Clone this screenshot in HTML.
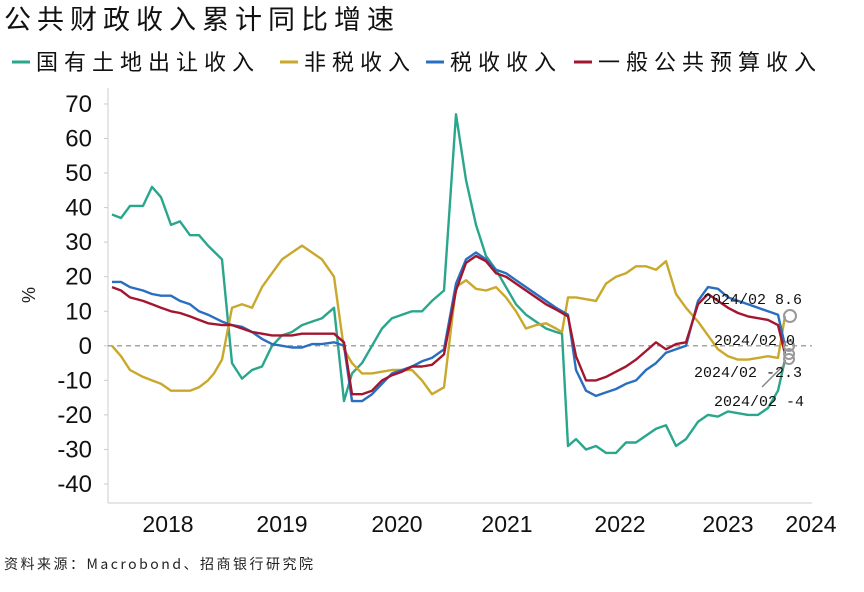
<!DOCTYPE html><html><head><meta charset="utf-8"><style>
body{margin:0;background:#fff;width:864px;height:587px;overflow:hidden;font-family:"Liberation Sans","Noto Sans CJK SC",sans-serif}
</style></head><body>
<svg id="s" width="864" height="587" xmlns="http://www.w3.org/2000/svg">
<text x="4" y="29" font-size="27" letter-spacing="6" font-family="Noto Sans CJK SC,sans-serif" fill="#111">公共财政收入累计同比增速</text>
<g font-size="22" letter-spacing="6" font-family="Noto Sans CJK SC,sans-serif" fill="#111">
<line x1="12" y1="62" x2="30" y2="62" stroke="#2aa68c" stroke-width="3"/><text x="36" y="70">国有土地出让收入</text>
<line x1="280" y1="62" x2="298" y2="62" stroke="#c9a82c" stroke-width="3"/><text x="304" y="70">非税收入</text>
<line x1="426" y1="62" x2="444" y2="62" stroke="#2a6ebf" stroke-width="3"/><text x="450" y="70">税收收入</text>
<line x1="574" y1="62" x2="592" y2="62" stroke="#a3162f" stroke-width="3"/><text x="598" y="70">一般公共预算收入</text>
</g>
<line x1="108" y1="88" x2="108" y2="503" stroke="#ccc"/>
<line x1="108" y1="503" x2="812" y2="503" stroke="#ccc"/>
<line x1="108" y1="345.8" x2="812" y2="345.8" stroke="#888" stroke-dasharray="5,4" stroke-width="1.2"/>
<text x="35" y="295" font-size="18" transform="rotate(-90 35 295)" text-anchor="middle" fill="#222">%</text>
<g id="yt" font-size="24" fill="#111" text-anchor="end"></g>
<g font-size="23" fill="#111" text-anchor="middle">
<text x="168" y="532">2018</text><text x="282" y="532">2019</text><text x="397" y="532">2020</text><text x="507" y="532">2021</text><text x="620" y="532">2022</text><text x="728" y="532">2023</text><text x="811" y="532">2024</text></g>
<g id="ln" fill="none" stroke-width="2.4" stroke-linejoin="round"></g>
<g fill="none" stroke="#999" stroke-width="2"><circle cx="790" cy="316" r="6"/><circle cx="789" cy="346" r="5"/><circle cx="789" cy="354" r="5"/><circle cx="789" cy="359" r="5"/></g>
<line x1="762" y1="387" x2="785" y2="364" stroke="#888" stroke-width="1.5"/>
<g font-size="15" fill="#111" font-family="Liberation Mono,monospace">
<text x="703" y="304">2024/02 8.6</text><text x="714" y="345">2024/02 0</text><text x="694" y="377">2024/02 -2.3</text><text x="714" y="406">2024/02 -4</text></g>
<text x="4" y="569" font-size="14" letter-spacing="2.5" fill="#222" font-family="Noto Sans CJK SC,sans-serif">资料来源：Macrobond、招商银行研究院</text>
</svg>
<script>
var Y=v=>345.8-v*3.455,ns="http://www.w3.org/2000/svg";
var yt=document.getElementById('yt');
for(var v=70;v>=-40;v-=10){var t=document.createElementNS(ns,'text');t.setAttribute('x',92);t.setAttribute('y',Y(v)+8);t.textContent=v;yt.appendChild(t);
var l=document.createElementNS(ns,'line');l.setAttribute('x1',104);l.setAttribute('x2',108);l.setAttribute('y1',Y(v));l.setAttribute('y2',Y(v));l.setAttribute('stroke','#ccc');yt.appendChild(l);}
var S={
"#2aa68c":[[112,38],[121,37],[130,40.5],[143,40.5],[152,46],[161,43],[171,35],[180,36],[190,32],[199,32],[208,29],[222,25],[232,-5],[242,-9.5],[252,-7],[262,-6],[272,0],[282,3],[292,4],[302,6],[312,7],[322,8],[334,11],[344,-16],[352,-8],[362,-5],[372,0],[382,5],[392,8],[402,9],[412,10],[422,10],[432,13],[444,16],[456,67],[466,48],[476,35],[486,26],[496,22],[506,17],[516,12],[526,9],[536,7],[546,5],[556,4],[562,3.5],[568,-29],[576,-27],[586,-30],[596,-29],[606,-31],[616,-31],[626,-28],[636,-28],[646,-26],[656,-24],[666,-23],[676,-29],[686,-27],[698,-22],[708,-20],[718,-20.5],[728,-19],[738,-19.5],[748,-20],[758,-20],[768,-18],[778,-13],[785,-4]],
"#c9a82c":[[112,0],[121,-3],[130,-7],[143,-9],[152,-10],[161,-11],[171,-13],[190,-13],[199,-12],[208,-10],[214,-8],[222,-4],[232,11],[242,12],[252,11],[262,17],[272,21],[282,25],[292,27],[302,29],[312,27],[322,25],[334,20],[344,-1],[352,-5],[362,-8],[372,-8],[382,-7.5],[392,-7],[402,-7],[412,-7],[422,-10],[432,-14],[444,-12],[456,17],[466,19],[476,16.5],[486,16],[496,17],[506,14],[516,10],[526,5],[536,6],[546,6.5],[556,5],[562,4],[568,14],[576,14],[586,13.5],[596,13],[606,18],[616,20],[626,21],[636,23],[646,23],[656,22],[666,24.5],[676,15],[686,11],[698,7],[708,3],[718,-1],[728,-3],[738,-4],[748,-4],[758,-3.5],[768,-3],[778,-3.5],[785,8.6]],
"#2a6ebf":[[112,18.5],[121,18.5],[130,17],[143,16],[152,15],[161,14.5],[171,14.5],[180,13],[190,12],[199,10],[208,9],[222,7],[232,6],[242,5.5],[252,4],[262,2],[272,0.5],[282,0],[292,-0.5],[302,-0.5],[312,0.5],[322,0.5],[334,1],[344,0],[352,-16],[362,-16],[372,-14],[382,-11],[392,-8],[402,-7],[412,-6],[422,-4.5],[432,-3.5],[444,-1],[456,18],[466,25],[476,27],[486,25],[496,22],[506,21],[516,19],[526,17],[536,15],[546,13],[556,11],[568,9],[576,-7],[586,-13],[596,-14.5],[606,-13.5],[616,-12.5],[626,-11],[636,-10],[646,-7],[656,-5],[666,-2],[676,-1],[686,0],[698,13],[708,17],[718,16.5],[728,14],[738,13],[748,12],[758,11],[768,10],[778,9],[785,0]],
"#a3162f":[[112,17],[121,16],[130,14],[143,13],[152,12],[161,11],[171,10],[180,9.5],[190,8.5],[199,7.5],[208,6.5],[222,6],[232,6],[242,5],[252,4],[262,3.5],[272,3],[282,3],[292,3],[302,3.5],[312,3.5],[322,3.5],[334,3.5],[344,1],[352,-14],[362,-14],[372,-13],[382,-10],[392,-8.5],[402,-7.5],[412,-6],[422,-6],[432,-5.5],[444,-2.5],[456,16],[466,24],[476,26],[486,24.5],[496,21],[506,20],[516,18],[526,16],[536,14],[546,12],[556,10.5],[568,8.5],[576,-3],[586,-10],[596,-10],[606,-9],[616,-7.5],[626,-6],[636,-4],[646,-1.5],[656,1],[666,-1],[676,0.5],[686,1],[698,12],[708,15],[718,13],[728,11],[738,9.5],[748,8.5],[758,8],[768,7.5],[778,6],[785,-2.3]]};
var ln=document.getElementById('ln');
for(var c in S){var p=document.createElementNS(ns,'polyline');p.setAttribute('stroke',c);p.setAttribute('points',S[c].map(a=>a[0]+','+Y(a[1]).toFixed(1)).join(' '));ln.appendChild(p);}
</script>
</body></html>
